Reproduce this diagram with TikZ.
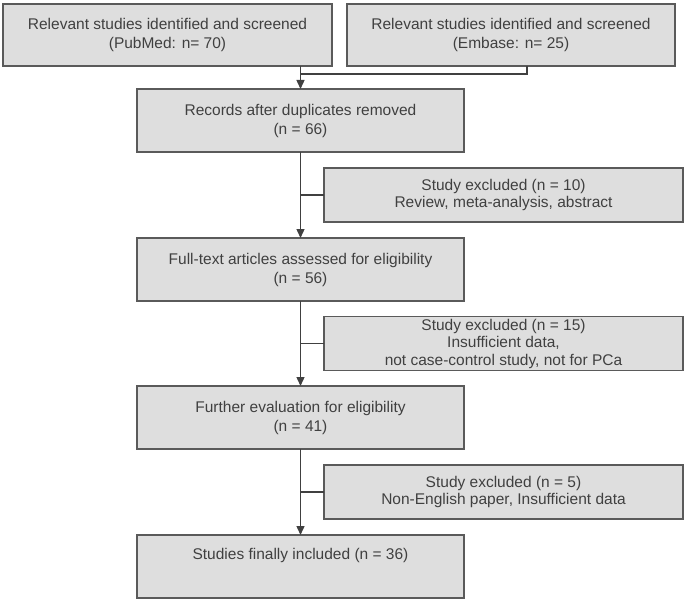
\documentclass[tikz,border=0pt]{standalone}
\usepackage{fontspec}
\setmainfont{Liberation Sans}
\usetikzlibrary{arrows.meta,positioning,calc}
\definecolor{boxfill}{HTML}{DEDEDE}
\definecolor{boxline}{HTML}{5A5A5A}
\definecolor{ink}{HTML}{404040}

\begin{document}
\begin{tikzpicture}[x=1pt,y=-1pt,every node/.style={outer sep=0pt},
    study/.style={draw=boxline,fill=boxfill,line width=1.1pt,text=ink,align=center,
    minimum width=327pt,minimum height=63pt,inner sep=0pt,
    font=\fontsize{15.5}{19}\selectfont},
    excluded/.style={study,minimum width=359pt,minimum height=54pt,
    font=\fontsize{15.5}{17.5}\selectfont},
    link/.style={draw=ink,line width=1.4pt},
    arrow/.style={link,-{Triangle[length=9pt,width=8pt]}}]
  \useasboundingbox (0,0) rectangle (688,602);

  \node[study,minimum width=329pt,minimum height=62pt] (pubmed) at (167.5,35)
    {Relevant studies identified and screened\\(PubMed: n= 70)};
  \node[study,minimum width=328pt,minimum height=62pt,right=15pt of pubmed] (embase)
    {Relevant studies identified and screened\\(Embase: n= 25)};
  \node[study] (records) at (300.5,120.5) {Records after duplicates removed\\(n = 66)};
  \node[study,below=86pt of records] (fulltext)
    {Full-text articles assessed for eligibility\\(n = 56)};
  \node[study,below=85pt of fulltext] (further)
    {Further evaluation for eligibility\\(n = 41)};
  \node[study,below=86pt of further] (finally)
    {Studies finally included (n = 36)\\\strut};

  \node[excluded,anchor=west] (excl1) at ($(records.south)!0.5!(fulltext.north)+(23.5,0)$)
    {Study excluded (n = 10)\\Review, meta-analysis, abstract};
  \node[excluded,anchor=west] (excl2) at ($(fulltext.south)!0.5!(further.north)+(23.5,0)$)
    {Study excluded (n = 15)\\Insufficient data,\\not case-control study, not for PCa};
  \node[excluded,anchor=west] (excl3) at ($(further.south)!0.5!(finally.north)+(23.5,0)$)
    {Study excluded (n = 5)\\Non-English paper, Insufficient data};

  \draw[arrow] (pubmed.south -| records.north) -- (records.north);
  \draw[link] ([xshift=16pt]embase.south) -- ++(0,8) -| (pubmed.south -| records.north);

  \foreach \a/\b/\c in {records/fulltext/excl1,fulltext/further/excl2,further/finally/excl3}
  {
    \draw[arrow] (\a) -- (\b);
    \draw[link] (\c.west) -- (\c.west -| \a.south);
  }
\end{tikzpicture}
\end{document}
